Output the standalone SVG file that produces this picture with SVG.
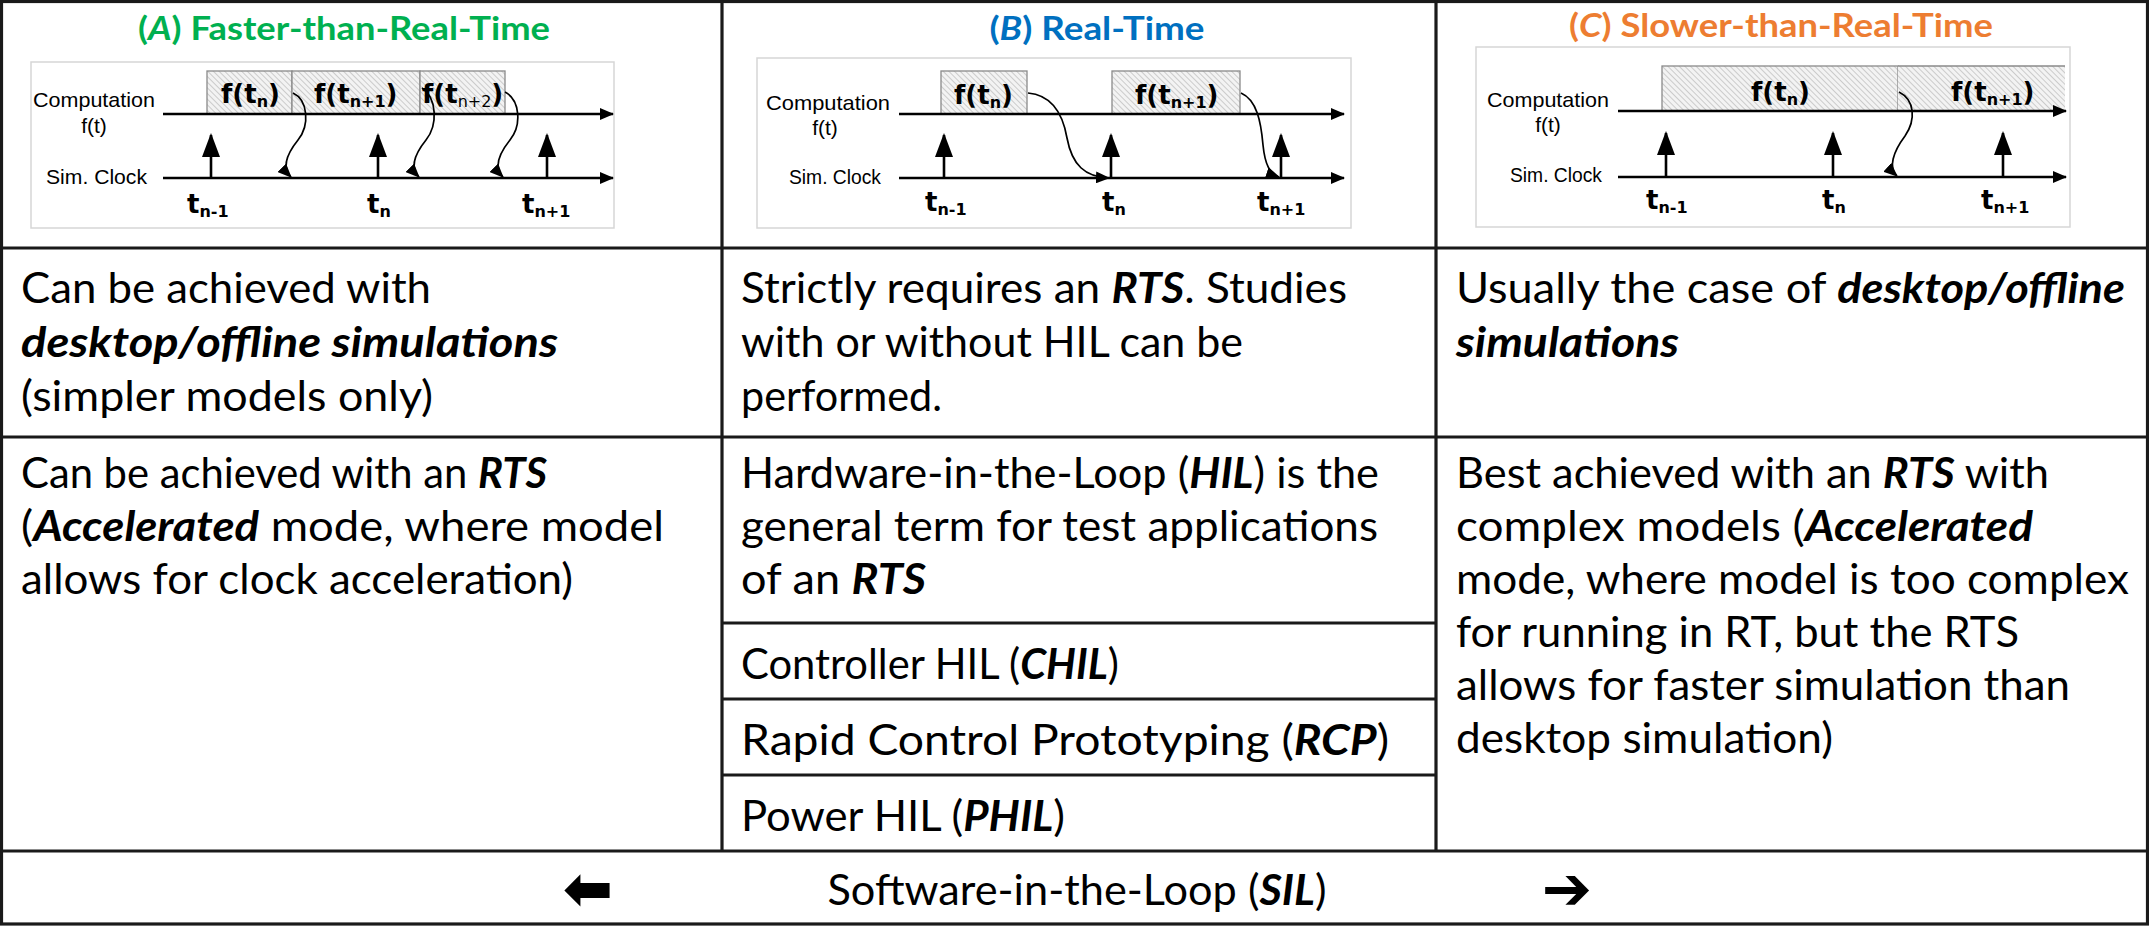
<svg xmlns="http://www.w3.org/2000/svg" width="2149" height="926" viewBox="0 0 2149 926">
<defs>
<style>
.grid{stroke:#1a1a1a;stroke-width:3.2;fill:none}
.t{font-family:Lato,"Open Sans","Liberation Sans",sans-serif;font-size:42px;fill:#000}
.bi{font-weight:700;font-style:italic}
.ttl{font-family:Lato,"Open Sans","Liberation Sans",sans-serif;font-size:32px;font-weight:700;text-anchor:middle}
.lbl{font-family:"Liberation Sans",Arial,sans-serif;font-size:21px;fill:#000}
.fb{font-family:"DejaVu Sans",Verdana,sans-serif;font-weight:700;font-size:26px;fill:#000}
.sub{font-size:16px}
.frame{fill:#fff;stroke:#d6d6d6;stroke-width:1.5}
.box{fill:url(#hatch);stroke:#8a8a8a;stroke-width:1.3}
.axis{stroke:#000;stroke-width:2.6;fill:none;marker-end:url(#ax)}
.up{stroke:#000;stroke-width:2.6;fill:none;marker-end:url(#upm)}
.cv{stroke:#000;stroke-width:1.7;fill:none;marker-end:url(#cvm)}
.arr{font-family:"DejaVu Sans",sans-serif;font-weight:700;font-size:60px;text-anchor:middle}
</style>
<pattern id="hatch" width="4" height="4" patternUnits="userSpaceOnUse" patternTransform="rotate(-45)">
<rect width="4" height="4" fill="#f3f3f3"/>
<line x1="0" y1="0" x2="0" y2="4" stroke="#b5b5b5" stroke-width="1.3"/>
</pattern>
<marker id="ax" markerUnits="userSpaceOnUse" markerWidth="14" markerHeight="12" refX="13" refY="6" orient="auto">
<path d="M0,0 L14,6 L0,12 z" fill="#000"/>
</marker>
<marker id="upm" markerUnits="userSpaceOnUse" markerWidth="24" markerHeight="18" refX="22" refY="9" orient="auto">
<path d="M0,0 L24,9 L0,18 z" fill="#000"/>
</marker>
<marker id="cvm" markerUnits="userSpaceOnUse" markerWidth="14" markerHeight="12" refX="13" refY="6" orient="auto">
<path d="M0,0 L14,6 L0,12 z" fill="#000"/>
</marker>
</defs>

<rect width="2149" height="926" fill="#fff"/>

<!-- header A -->
<g id="header-a">
<text class="ttl" x="344" y="40" fill="#00B050" textLength="412" lengthAdjust="spacingAndGlyphs">(<tspan font-style="italic">A</tspan>) Faster-than-Real-Time</text>
<rect class="frame" x="31" y="62" width="583" height="166"/>
<rect class="box" x="207" y="71" width="85" height="43"/>
<rect class="box" x="292" y="71" width="128" height="43"/>
<rect class="box" x="420" y="71" width="85" height="43"/>
<text class="fb" x="221" y="103">f(t<tspan class="sub" dy="4">n</tspan><tspan dy="-4">)</tspan></text>
<text class="fb" x="314" y="103">f(t<tspan class="sub" dy="4">n+1</tspan><tspan dy="-4">)</tspan></text>
<text class="fb" x="422" y="103">f(t<tspan class="sub" dy="4" font-weight="400">n+2</tspan><tspan dy="-4">)</tspan></text>
<text class="lbl" x="33" y="107" textLength="122" lengthAdjust="spacingAndGlyphs">Computation</text>
<text class="lbl" x="94" y="133" text-anchor="middle">f(t)</text>
<text class="lbl" x="46" y="184" textLength="101" lengthAdjust="spacingAndGlyphs">Sim. Clock</text>
<line class="axis" x1="163" y1="114" x2="613" y2="114"/>
<line class="axis" x1="163" y1="178" x2="613" y2="178"/>
<line class="up" x1="211" y1="178" x2="211" y2="135"/>
<line class="up" x1="378" y1="178" x2="378" y2="135"/>
<line class="up" x1="547" y1="178" x2="547" y2="135"/>
<path class="cv" d="M293,93 C308,100 310,125 298,140 C286,155 282,168 291,177"/>
<path class="cv" d="M422,88 C437,98 438,125 426,140 C414,155 410,168 419,177"/>
<path class="cv" d="M505,92 C520,100 522,125 510,140 C498,155 494,168 503,177"/>
<text class="fb" x="187" y="213">t<tspan class="sub" dy="4">n-1</tspan></text>
<text class="fb" x="367" y="213">t<tspan class="sub" dy="4">n</tspan></text>
<text class="fb" x="522" y="213">t<tspan class="sub" dy="4">n+1</tspan></text>
</g>

<!-- header B -->
<g id="header-b">
<text class="ttl" x="1097" y="40" fill="#0070C0" textLength="215" lengthAdjust="spacingAndGlyphs">(<tspan font-style="italic">B</tspan>) Real-Time</text>
<rect class="frame" x="757" y="58" width="594" height="170"/>
<rect class="box" x="941" y="71" width="86" height="43"/>
<rect class="box" x="1112" y="71" width="128" height="43"/>
<text class="fb" x="954" y="104">f(t<tspan class="sub" dy="4">n</tspan><tspan dy="-4">)</tspan></text>
<text class="fb" x="1135" y="104">f(t<tspan class="sub" dy="4">n+1</tspan><tspan dy="-4">)</tspan></text>
<text class="lbl" x="766" y="110" textLength="124" lengthAdjust="spacingAndGlyphs">Computation</text>
<text class="lbl" x="825" y="135" text-anchor="middle">f(t)</text>
<text class="lbl" x="789" y="184" textLength="92" lengthAdjust="spacingAndGlyphs">Sim. Clock</text>
<line class="axis" x1="899" y1="114" x2="1344" y2="114"/>
<line class="axis" x1="899" y1="178" x2="1344" y2="178"/>
<line class="up" x1="944" y1="178" x2="944" y2="135"/>
<line class="up" x1="1111" y1="178" x2="1111" y2="135"/>
<line class="up" x1="1281" y1="178" x2="1281" y2="135"/>
<path class="cv" d="M1028,93 C1052,95 1063,115 1067,138 C1072,165 1085,177 1109,178"/>
<path class="cv" d="M1241,93 C1257,100 1261,122 1263,145 C1265,165 1270,174 1279,177"/>
<text class="fb" x="925" y="211">t<tspan class="sub" dy="4">n-1</tspan></text>
<text class="fb" x="1102" y="211">t<tspan class="sub" dy="4">n</tspan></text>
<text class="fb" x="1257" y="211">t<tspan class="sub" dy="4">n+1</tspan></text>
</g>

<!-- header C -->
<g id="header-c">
<text class="ttl" x="1781" y="37" fill="#ED7D31" textLength="424" lengthAdjust="spacingAndGlyphs">(<tspan font-style="italic">C</tspan>) Slower-than-Real-Time</text>
<rect class="frame" x="1476" y="47" width="594" height="180"/>
<rect class="box" x="1662" y="66" width="236" height="45"/>
<rect x="1898" y="66" width="167" height="45" fill="url(#hatch)"/>
<polyline points="1898,66 2065,66" stroke="#8a8a8a" stroke-width="1.3" fill="none"/>
<text class="fb" x="1751" y="101">f(t<tspan class="sub" dy="4">n</tspan><tspan dy="-4">)</tspan></text>
<text class="fb" x="1951" y="101">f(t<tspan class="sub" dy="4">n+1</tspan><tspan dy="-4">)</tspan></text>
<text class="lbl" x="1487" y="107" textLength="122" lengthAdjust="spacingAndGlyphs">Computation</text>
<text class="lbl" x="1548" y="132" text-anchor="middle">f(t)</text>
<text class="lbl" x="1510" y="182" textLength="92" lengthAdjust="spacingAndGlyphs">Sim. Clock</text>
<line class="axis" x1="1618" y1="111" x2="2066" y2="111"/>
<line class="axis" x1="1618" y1="177" x2="2066" y2="177"/>
<line class="up" x1="1666" y1="177" x2="1666" y2="133"/>
<line class="up" x1="1833" y1="177" x2="1833" y2="133"/>
<line class="up" x1="2003" y1="177" x2="2003" y2="133"/>
<path class="cv" d="M1899,92 C1915,100 1916,120 1905,136 C1893,152 1888,168 1897,176"/>
<text class="fb" x="1646" y="209">t<tspan class="sub" dy="4">n-1</tspan></text>
<text class="fb" x="1822" y="209">t<tspan class="sub" dy="4">n</tspan></text>
<text class="fb" x="1981" y="209">t<tspan class="sub" dy="4">n+1</tspan></text>
</g>

<!-- table grid -->
<g id="grid" class="grid">
<rect x="1.5" y="1.5" width="2146" height="922.5"/>
<line x1="0" y1="248" x2="2149" y2="248"/>
<line x1="0" y1="437" x2="2149" y2="437"/>
<line x1="0" y1="851" x2="2149" y2="851"/>
<line x1="722" y1="0" x2="722" y2="851"/>
<line x1="1436" y1="0" x2="1436" y2="851"/>
<line x1="722" y1="623" x2="1436" y2="623"/>
<line x1="722" y1="699" x2="1436" y2="699"/>
<line x1="722" y1="775" x2="1436" y2="775"/>
</g>

<!-- row 2 -->
<g id="cell-a2">
<text class="t" x="21" y="303" textLength="410" lengthAdjust="spacingAndGlyphs">Can be achieved with</text>
<text class="t bi" x="21" y="357" textLength="537" lengthAdjust="spacingAndGlyphs">desktop/offline simulations</text>
<text class="t" x="21" y="411" textLength="412" lengthAdjust="spacingAndGlyphs">(simpler models only)</text>
</g>
<g id="cell-b2">
<text class="t" x="741" y="303" textLength="606" lengthAdjust="spacingAndGlyphs">Strictly requires an <tspan class="bi">RTS</tspan>. Studies</text>
<text class="t" x="741" y="357" textLength="502" lengthAdjust="spacingAndGlyphs">with or without HIL can be</text>
<text class="t" x="741" y="411" textLength="201" lengthAdjust="spacingAndGlyphs">performed.</text>
</g>
<g id="cell-c2">
<text class="t" x="1456" y="303" textLength="669" lengthAdjust="spacingAndGlyphs">Usually the case of <tspan class="bi">desktop/offline</tspan></text>
<text class="t bi" x="1456" y="357" textLength="223" lengthAdjust="spacingAndGlyphs">simulations</text>
</g>

<!-- row 3 -->
<g id="cell-a3">
<text class="t" x="21" y="488" textLength="526" lengthAdjust="spacingAndGlyphs">Can be achieved with an <tspan class="bi">RTS</tspan></text>
<text class="t" x="21" y="541" textLength="643" lengthAdjust="spacingAndGlyphs">(<tspan class="bi">Accelerated</tspan> mode, where model</text>
<text class="t" x="21" y="594" textLength="552" lengthAdjust="spacingAndGlyphs">allows for clock acceleration)</text>
</g>
<g id="cell-b3-hil">
<text class="t" x="741" y="488" textLength="638" lengthAdjust="spacingAndGlyphs">Hardware-in-the-Loop (<tspan class="bi">HIL</tspan>) is the</text>
<text class="t" x="741" y="541" textLength="637" lengthAdjust="spacingAndGlyphs">general term for test applications</text>
<text class="t" x="741" y="594" textLength="185" lengthAdjust="spacingAndGlyphs">of an <tspan class="bi">RTS</tspan></text>
</g>
<g id="cell-b3-chil">
<text class="t" x="741" y="679" textLength="378" lengthAdjust="spacingAndGlyphs">Controller HIL (<tspan class="bi">CHIL</tspan>)</text>
</g>
<g id="cell-b3-rcp">
<text class="t" x="741" y="755" textLength="648" lengthAdjust="spacingAndGlyphs">Rapid Control Prototyping (<tspan class="bi">RCP</tspan>)</text>
</g>
<g id="cell-b3-phil">
<text class="t" x="741" y="831" textLength="324" lengthAdjust="spacingAndGlyphs">Power HIL (<tspan class="bi">PHIL</tspan>)</text>
</g>
<g id="cell-c3">
<text class="t" x="1456" y="488" textLength="593" lengthAdjust="spacingAndGlyphs">Best achieved with an <tspan class="bi">RTS</tspan> with</text>
<text class="t" x="1456" y="541" textLength="577" lengthAdjust="spacingAndGlyphs">complex models (<tspan class="bi">Accelerated</tspan></text>
<text class="t" x="1456" y="594" textLength="673" lengthAdjust="spacingAndGlyphs">mode, where model is too complex</text>
<text class="t" x="1456" y="647" textLength="563" lengthAdjust="spacingAndGlyphs">for running in RT, but the RTS</text>
<text class="t" x="1456" y="700" textLength="614" lengthAdjust="spacingAndGlyphs">allows for faster simulation than</text>
<text class="t" x="1456" y="753" textLength="377" lengthAdjust="spacingAndGlyphs">desktop simulation)</text>
</g>

<!-- bottom row -->
<g id="cell-sil">
<text class="arr" x="588" y="909">⬅</text>
<text class="t" x="1077" y="905" text-anchor="middle" textLength="499" lengthAdjust="spacingAndGlyphs">Software-in-the-Loop (<tspan class="bi">SIL</tspan>)</text>
<text class="arr" x="1567" y="909">➔</text>
</g>
</svg>
